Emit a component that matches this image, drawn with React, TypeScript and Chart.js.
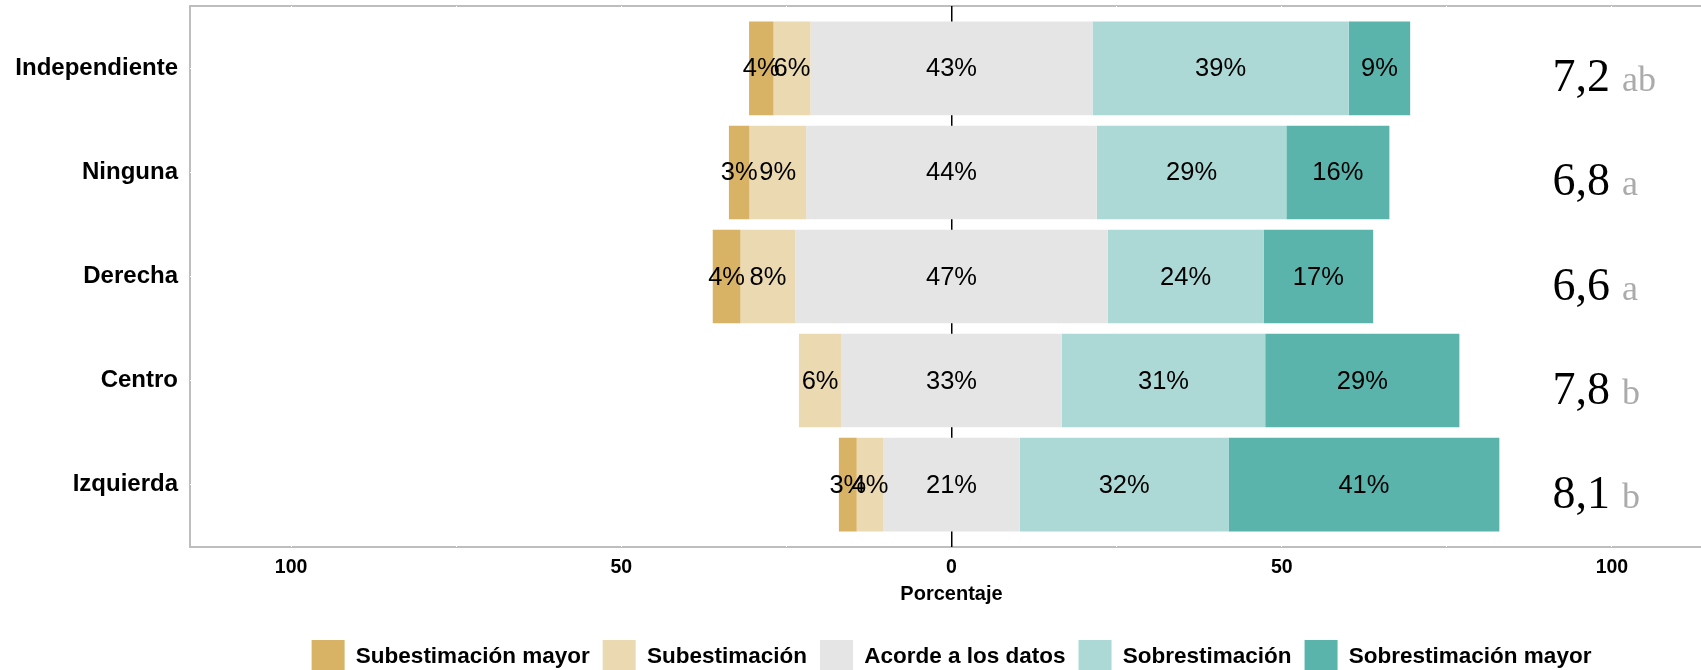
import React, { useEffect, useRef } from "react";
import { Chart, registerables } from "chart.js";

Chart.register(...registerables);

// ---- Data ----
const categories = ["Independiente", "Ninguna", "Derecha", "Centro", "Izquierda"];
const seriesNames = [
  "Subestimación mayor",
  "Subestimación",
  "Acorde a los datos",
  "Sobrestimación",
  "Sobrestimación mayor",
];
const subMayor = [3.7, 3.1, 4.2, 0, 2.7];
const subEst = [5.6, 8.6, 8.3, 6.4, 4.0];
const acorde = [42.7, 44.0, 47.3, 33.4, 20.7];
const sobreEst = [38.8, 28.7, 23.6, 30.8, 31.6];
const sobreMayor = [9.3, 15.6, 16.6, 29.4, 41.0];
const means = [7.2, 6.8, 6.6, 7.8, 8.1];
const groupLetters = ["ab", "a", "a", "b", "b"];
const xTickValues = [-100, -75, -50, -25, 0, 25, 50, 75, 100];
const colors = ["#D8B365", "#EBD9B2", "#E5E5E5", "#ACD9D5", "#5AB4AC"];

const SANS = '"Liberation Sans", Arial, sans-serif';
const SERIF = '"Liberation Serif", "Times New Roman", serif';

export default function App() {
  const ref = useRef<HTMLCanvasElement | null>(null);

  useEffect(() => {
    const canvas = ref.current;
    if (!canvas) return;
    const series = [subMayor, subEst, acorde, sobreEst, sobreMayor];

    // diverging segments: neutral centred on zero
    const datasets = series.map((vals, k) => ({
      label: seriesNames[k],
      backgroundColor: colors[k],
      borderWidth: 0,
      data: categories.map((_, i) => {
        const leftEdge = -(acorde[i] / 2 + subEst[i] + subMayor[i]);
        let start = leftEdge;
        for (let j = 0; j < k; j++) start += series[j][i];
        return { y: i, x: [start, start + vals[i]] };
      }),
    }));

    const borderPlugin = {
      id: "panelBorder",
      beforeDraw(chart: any) {
        const { ctx, chartArea } = chart;
        ctx.save();
        ctx.fillStyle = "#FFFFFF";
        ctx.fillRect(0, 0, chart.width, chart.height);
        ctx.strokeStyle = "#BEBEBE";
        ctx.lineWidth = 2;
        ctx.strokeRect(
          chartArea.left,
          chartArea.top,
          chartArea.right - chartArea.left,
          chartArea.bottom - chartArea.top
        );
        ctx.restore();
      },
    };

    const labelPlugin = {
      id: "segLabels",
      afterDatasetsDraw(chart: any) {
        const { ctx } = chart;
        ctx.save();
        ctx.font = `25.5px ${SANS}`;
        ctx.fillStyle = "#000000";
        ctx.textAlign = "center";
        ctx.textBaseline = "middle";
        series.forEach((vals, k) => {
          const meta = chart.getDatasetMeta(k);
          meta.data.forEach((el: any, i: number) => {
            const v = Math.round(vals[i]);
            if (v === 0) return;
            const p = el.getProps(["x", "base", "y"], true);
            ctx.fillText(`${v}%`, (p.x + p.base) / 2, p.y + 1);
          });
        });
        // right-hand means
        const xs = chart.scales.x;
        const ys = chart.scales.y;
        const x0 = xs.getPixelForValue(91);
        ctx.textAlign = "left";
        ctx.textBaseline = "alphabetic";
        means.forEach((m, i) => {
          const y = ys.getPixelForValue(i) + 23;
          const txt = m.toFixed(1).replace(".", ",");
          ctx.font = `46px ${SERIF}`;
          ctx.fillStyle = "#000000";
          ctx.fillText(txt, x0, y);
          const w = ctx.measureText(txt).width;
          ctx.font = `36px ${SERIF}`;
          ctx.fillStyle = "#ABABAB";
          ctx.fillText(groupLetters[i], x0 + w + 12, y);
        });
        ctx.restore();
      },
    };

    const zeroPad = (s: any) => {
      s.paddingTop = 0;
      s.paddingBottom = 0;
      s.paddingLeft = 0;
      s.paddingRight = 0;
    };

    const chart = new Chart(canvas, {
      type: "bar",
      data: { datasets } as any,
      plugins: [borderPlugin, labelPlugin],
      options: {
        responsive: false,
        animation: false,
        indexAxis: "y",
        events: [],
        layout: { padding: { top: 6, right: 3, left: 0, bottom: 0 } },
        datasets: {
          bar: { grouped: false, categoryPercentage: 1, barPercentage: 0.9 },
        } as any,
        plugins: {
          tooltip: { enabled: false },
          legend: {
            position: "bottom",
            fullSize: false,
            labels: {
              boxWidth: 33,
              boxHeight: 33,
              padding: 13,
              color: "#000000",
              font: { family: SANS, size: 22.5, weight: "bold" },
            },
          },
        },
        scales: {
          x: {
            type: "linear",
            min: -115.3,
            max: 115.3,
            offset: false,
            afterBuildTicks: (s: any) => {
              s.ticks = xTickValues.map((v) => ({ value: v }));
            },
            afterFit: (s: any) => {
              s.height = 80;
              zeroPad(s);
            },
            grid: {
              offset: false,
              color: (c: any) => (c.tick && c.tick.value === 0 ? "#000000" : "#FFFFFF"),
              lineWidth: (c: any) => (c.tick && c.tick.value === 0 ? 1.5 : 1),
              drawTicks: false,
            },
            border: { display: false },
            ticks: {
              autoSkip: false,
              maxRotation: 0,
              padding: 9,
              color: "#000000",
              font: { family: SANS, size: 19.5, weight: "bold" },
              callback: (v: any) => (Number(v) % 50 === 0 ? String(Math.abs(Number(v))) : ""),
            },
            title: {
              display: true,
              text: "Porcentaje",
              color: "#000000",
              font: { family: SANS, size: 20, weight: "bold" },
              padding: { top: 0, bottom: 21 },
            },
          },
          y: {
            type: "linear",
            min: -0.6,
            max: 4.6,
            reverse: true,
            offset: false,
            afterBuildTicks: (s: any) => {
              s.ticks = categories.map((_, i) => ({ value: i }));
            },
            afterFit: (s: any) => {
              s.width = 190;
              zeroPad(s);
            },
            grid: { offset: false, color: "#FFFFFF", lineWidth: 1, drawTicks: false },
            border: { display: false },
            ticks: {
              autoSkip: false,
              padding: 12,
              color: "#000000",
              font: { family: SANS, size: 24, weight: "bold" },
              callback: (v: any) => categories[Number(v)] ?? "",
            },
          },
        },
      } as any,
    });
    return () => chart.destroy();
  }, []);

  return (
    <div
      style={{
        position: "fixed",
        left: 0,
        top: 0,
        width: 1701,
        height: 670,
        overflow: "hidden",
        background: "#FFFFFF",
      }}
    >
      <canvas ref={ref} width={1716} height={683} style={{ display: "block" }} />
    </div>
  );
}
